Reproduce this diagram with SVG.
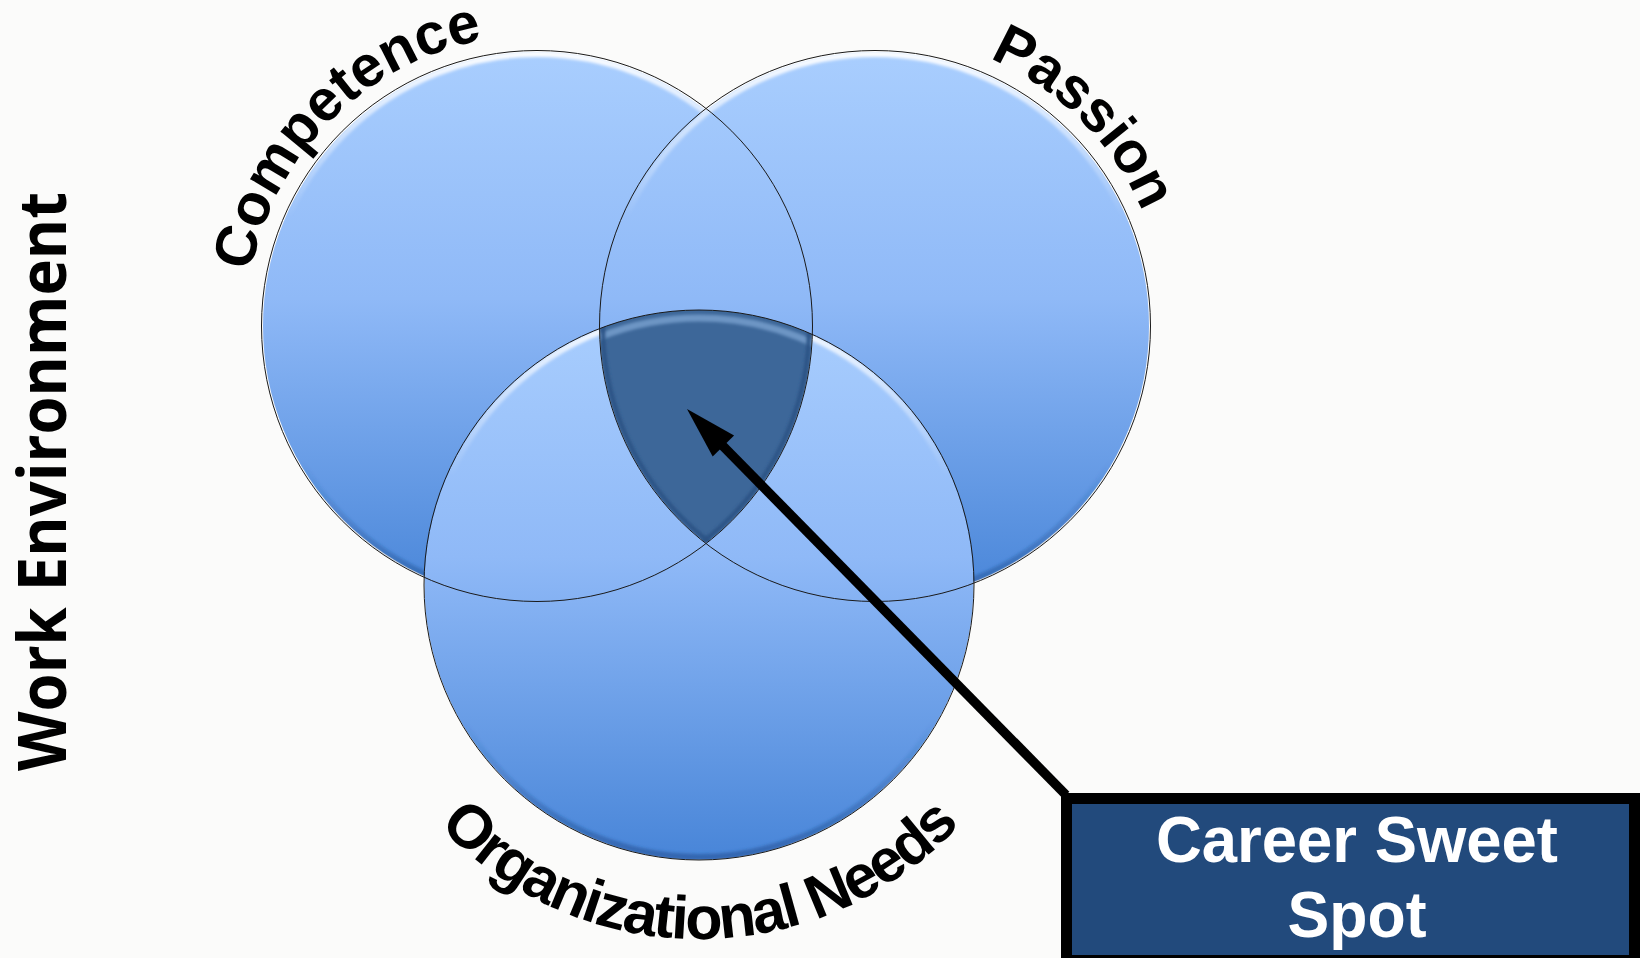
<svg xmlns="http://www.w3.org/2000/svg" width="1640" height="958" viewBox="0 0 1640 958">
<style>
.lbl{font-family:"Liberation Sans",Arial,sans-serif;font-weight:bold;fill:#000}
.side{font-family:"Open Sans","Liberation Sans",sans-serif;font-weight:bold;fill:#000}
.box{font-family:"Liberation Sans",Arial,sans-serif;font-weight:bold;fill:#fff}
.fill{fill:url(#gBlue)}
.rim{fill:none;stroke:url(#gRim);stroke-width:6;filter:url(#blur)}
.outline{fill:none;stroke:#1a1a1a;stroke-width:1}
</style>
<defs>
<linearGradient id="gBlue" x1="0" y1="0" x2="0" y2="1">
<stop offset="0" stop-color="#a9cefe"/>
<stop offset="0.45" stop-color="#8fb9f7"/>
<stop offset="1" stop-color="#4885d8"/>
</linearGradient>
<linearGradient id="gRim" x1="0" y1="0" x2="0" y2="1">
<stop offset="0" stop-color="#ffffff" stop-opacity="0.95"/>
<stop offset="0.3" stop-color="#ffffff" stop-opacity="0"/>
<stop offset="0.75" stop-color="#1d4c8f" stop-opacity="0"/>
<stop offset="1" stop-color="#1d4c8f" stop-opacity="0.55"/>
</linearGradient>
<filter id="blur" x="-5%" y="-5%" width="110%" height="110%"><feGaussianBlur stdDeviation="1.5"/></filter>
<clipPath id="cL"><circle cx="537" cy="326" r="275"/></clipPath>
<clipPath id="cR"><circle cx="875" cy="326" r="275"/></clipPath>
<clipPath id="cB"><circle cx="699" cy="585" r="275"/></clipPath>
<path id="pComp" d="M 255.9 401.3 A 291 291 0 0 1 612.3 44.9"/>
<path id="pPass" d="M 799.7 44.9 A 291 291 0 0 1 1156.1 401.3"/>
<path id="pOrg" d="M 392.4 762 A 354 354 0 0 0 1005.6 762"/>
</defs>
<rect x="0" y="0" width="1640" height="958" fill="#fbfbfa"/>

<g id="competence">
<circle class="fill" cx="537" cy="326" r="274"/>
<g clip-path="url(#cL)"><circle class="rim" cx="537" cy="326" r="272"/></g>
<text class="lbl" font-size="58"><textPath href="#pComp" startOffset="50%" text-anchor="middle">Competence</textPath></text>
</g>

<g id="passion">
<circle class="fill" cx="875" cy="326" r="274"/>
<g clip-path="url(#cR)"><circle class="rim" cx="875" cy="326" r="272"/></g>
<text class="lbl" font-size="58"><textPath href="#pPass" startOffset="50%" text-anchor="middle">Passion</textPath></text>
</g>

<g id="organizational-needs">
<circle class="fill" cx="699" cy="585" r="274.5"/>
<g clip-path="url(#cB)"><circle class="rim" cx="699" cy="585" r="272"/></g>
<text class="lbl" font-size="61" letter-spacing="-2"><textPath href="#pOrg" startOffset="50%" text-anchor="middle">Organizational Needs</textPath></text>
</g>

<g id="sweet-spot">
<g clip-path="url(#cL)"><g clip-path="url(#cR)"><g clip-path="url(#cB)">
<rect x="540" y="290" width="280" height="280" fill="#3d6799"/>
<circle cx="699" cy="588" r="270" fill="none" stroke="#6d95c4" stroke-width="7" filter="url(#blur)"/>
<circle cx="537" cy="326" r="272" fill="none" stroke="#2c5285" stroke-width="4" filter="url(#blur)"/>
<circle cx="875" cy="326" r="272" fill="none" stroke="#2c5285" stroke-width="4" filter="url(#blur)"/>
</g></g></g>
</g>

<g id="outlines">
<circle class="outline" cx="537" cy="326" r="275.5"/>
<circle class="outline" cx="875" cy="326" r="275.5"/>
<circle class="outline" cx="699" cy="585" r="275"/>
</g>

<g id="work-environment">
<text class="side" font-size="66" transform="translate(66,481.5) rotate(-90)" text-anchor="middle" textLength="579" lengthAdjust="spacingAndGlyphs">Work Environment</text>
</g>

<g id="connectors">
<line x1="1066" y1="795" x2="719" y2="442" stroke="#000" stroke-width="9.5"/>
<polygon points="687,409 734.1,435.6 712.7,456.6" fill="#000"/>
</g>

<g id="career-sweet-spot">
<rect x="1066.5" y="798.5" width="568" height="162" fill="#224a7c" stroke="#000" stroke-width="11"/>
<text class="box" font-size="64" x="1357" y="861.5" text-anchor="middle" textLength="402" lengthAdjust="spacingAndGlyphs">Career Sweet</text>
<text class="box" font-size="64" x="1357" y="937" text-anchor="middle" textLength="139" lengthAdjust="spacingAndGlyphs">Spot</text>
</g>
</svg>
